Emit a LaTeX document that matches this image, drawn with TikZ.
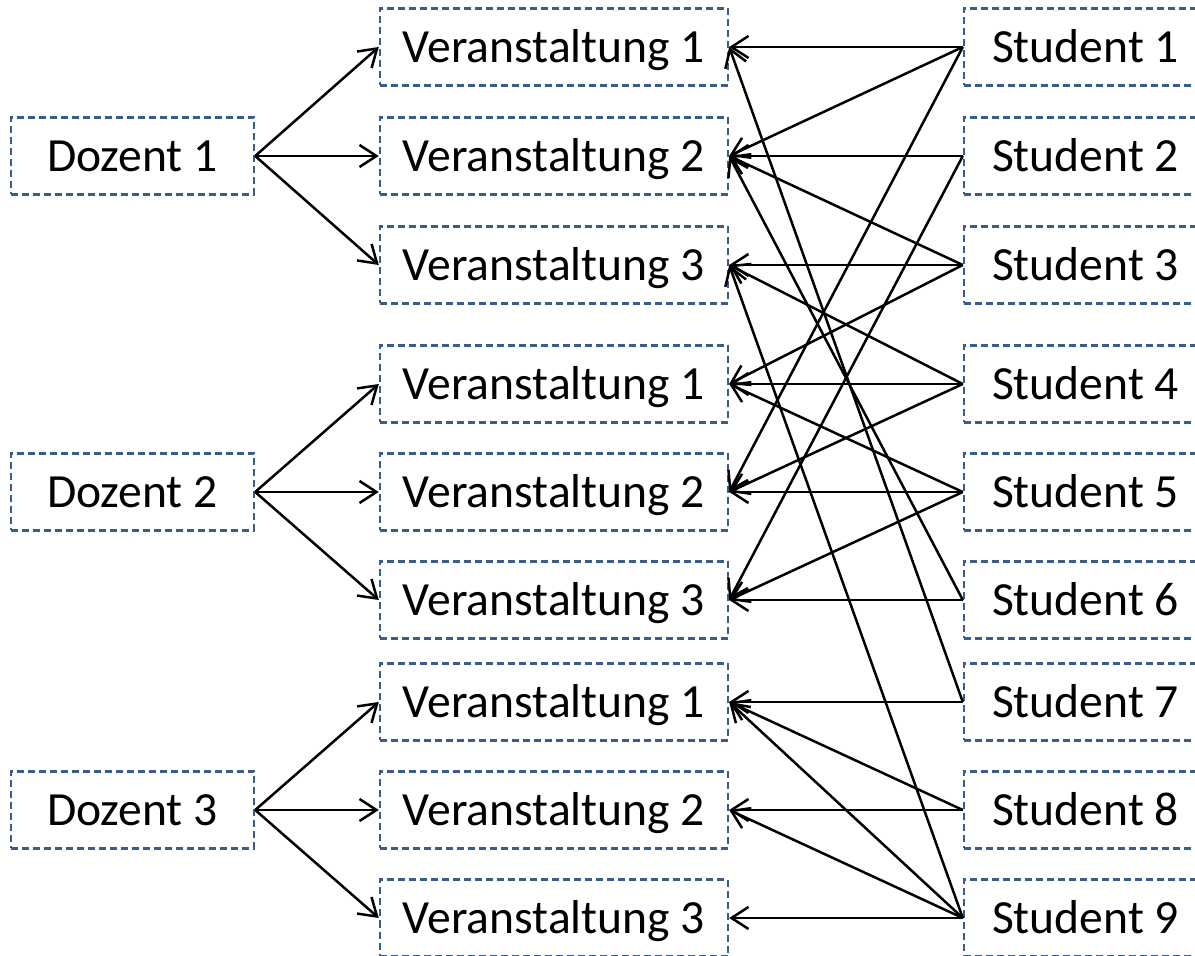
\documentclass[tikz,border=0pt]{standalone}
\usepackage{fontspec}
\setmainfont{Carlito}
\usetikzlibrary{arrows.meta}
\definecolor{boxblue}{RGB}{56,93,138}
\begin{document}
\begin{tikzpicture}[x=0.5pt,y=-0.5pt,
  box/.style={draw=boxblue, line width=1.2pt, dash pattern=on 3.5pt off 2pt, inner sep=0pt,
    font=\fontsize{23.8}{28}\selectfont, text=black, minimum height=38.5pt,
    text height=15.3pt, text depth=0pt},
  vbox/.style={box, minimum width=174pt},
  pbox/.style={box, minimum width=121.5pt},
  link/.style={line width=1.25pt, -{Straight Barb[length=8.5pt,width=11pt,line width=1.25pt]}}]
\useasboundingbox (0,0) rectangle (1195,956);
% Dozenten
\node[pbox] (d1) at (132.5,156) {Dozent 1};
\node[pbox] (d2) at (132.5,492) {Dozent 2};
\node[pbox] (d3) at (132.5,810) {Dozent 3};
% Veranstaltungen
\node[vbox] (v11) at (554,47)  {Veranstaltung 1};
\node[vbox] (v12) at (554,156) {Veranstaltung 2};
\node[vbox] (v13) at (554,265) {Veranstaltung 3};
\node[vbox] (v21) at (554,384) {Veranstaltung 1};
\node[vbox] (v22) at (554,492) {Veranstaltung 2};
\node[vbox] (v23) at (554,600) {Veranstaltung 3};
\node[vbox] (v31) at (554,702) {Veranstaltung 1};
\node[vbox] (v32) at (554,810) {Veranstaltung 2};
\node[vbox] (v33) at (554,918) {Veranstaltung 3};
% Studenten
\node[pbox] (s1) at (1085.5,47)  {Student 1};
\node[pbox] (s2) at (1085.5,156) {Student 2};
\node[pbox] (s3) at (1085.5,265) {Student 3};
\node[pbox] (s4) at (1085.5,384) {Student 4};
\node[pbox] (s5) at (1085.5,492) {Student 5};
\node[pbox] (s6) at (1085.5,600) {Student 6};
\node[pbox] (s7) at (1085.5,702) {Student 7};
\node[pbox] (s8) at (1085.5,810) {Student 8};
\node[pbox] (s9) at (1085.5,918) {Student 9};
% Dozent -> Veranstaltung
\foreach \d/\g in {d1/1,d2/2,d3/3}{
  \foreach \k in {1,2,3}{
    \draw[link] (\d.east) -- (v\g\k.west);
  }
}
% Student -> Veranstaltung
\foreach \s/\v in {s1/v11,s1/v12,s1/v22,
                   s2/v12,s2/v23,
                   s3/v13,s3/v12,s3/v21,
                   s4/v21,s4/v13,s4/v22,
                   s5/v22,s5/v21,s5/v23,
                   s6/v23,s6/v12,
                   s7/v31,s7/v11,
                   s8/v32,s8/v31,
                   s9/v33,s9/v32,s9/v31,s9/v13}{
  \draw[link] (\s.west) -- (\v.east);
}
\end{tikzpicture}
\end{document}
